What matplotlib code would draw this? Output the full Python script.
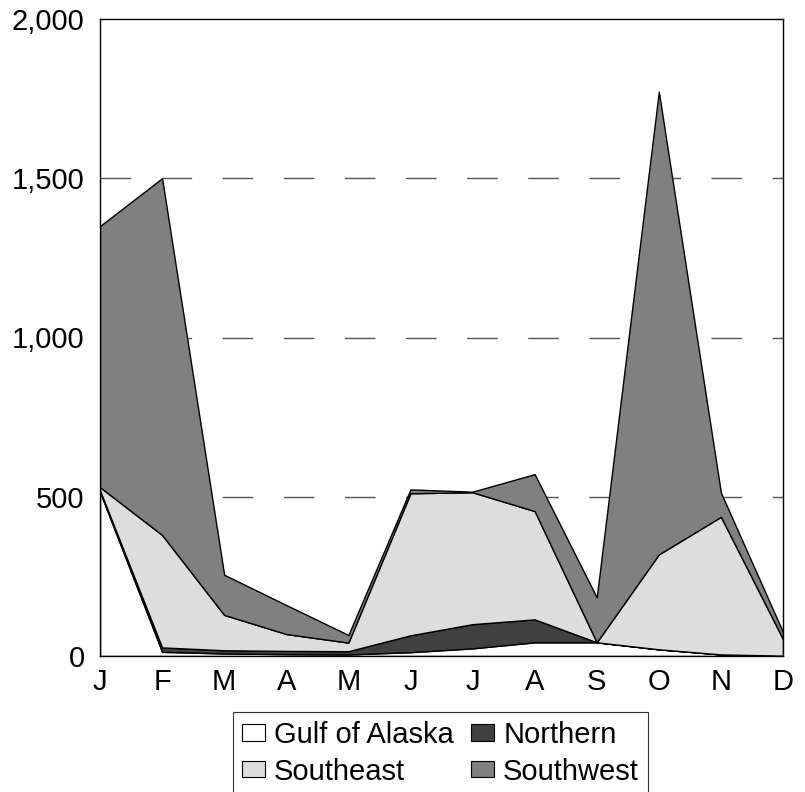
import numpy as np
import matplotlib.pyplot as plt
from matplotlib.patches import Patch

months = ["J", "F", "M", "A", "M", "J", "J", "A", "S", "O", "N", "D"]
gulf_of_alaska = [515, 13, 8, 6, 5, 12, 24, 43, 43, 21, 5, 1]
northern = [5, 14, 10, 10, 10, 53, 76, 72, 0, 0, 0, 0]
southeast = [10, 353, 111, 53, 27, 446, 414, 340, 0, 298, 432, 52]
southwest = [820, 1120, 126, 91, 24, 12, 2, 116, 141, 1453, 76, 22]

names = ["Gulf of Alaska", "Northern", "Southeast", "Southwest"]
colors = ["#ffffff", "#404040", "#dddddd", "#808080"]

plt.rcParams['font.family'] = ['Liberation Sans', 'DejaVu Sans']

fig = plt.figure(figsize=(8.05, 7.92), dpi=100)
ax = fig.add_axes([100 / 805, 136 / 792, 683 / 805, 637 / 792])

x = np.arange(len(months))
ax.stackplot(x, gulf_of_alaska, northern, southeast, southwest,
             colors=colors, edgecolor="black", linewidth=1, zorder=2)

ax.set_xlim(0, len(months) - 1)
ax.set_ylim(0, 2000)
ax.set_yticks([0, 500, 1000, 1500, 2000])
ax.set_yticklabels(["0", "500", "1,000", "1,500", "2,000"])
ax.set_xticks(x)
ax.set_xticklabels(months)
ax.tick_params(axis="both", length=0, labelsize=21)
ax.tick_params(axis="y", pad=11)
ax.tick_params(axis="x", pad=9)

for v in [500, 1000, 1500]:
    ax.axhline(v, color="#555555", linewidth=1, dashes=(22, 22), zorder=1)

for s in ax.spines.values():
    s.set_linewidth(1)
    s.set_color("black")
    s.set_zorder(3)

handles = [Patch(facecolor=colors[0], edgecolor="black", linewidth=0.8),
           Patch(facecolor=colors[2], edgecolor="black", linewidth=0.8),
           Patch(facecolor=colors[1], edgecolor="black", linewidth=0.8),
           Patch(facecolor=colors[3], edgecolor="black", linewidth=0.8)]
labels = [names[0], names[2], names[1], names[3]]
leg = fig.legend(handles, labels, ncol=2, loc="upper left",
                 bbox_to_anchor=(233 / 805, (792 - 712) / 792),
                 bbox_transform=fig.transFigure, borderaxespad=0,
                 fontsize=21, frameon=True, fancybox=False,
                 handlelength=0.8, handleheight=0.5, handletextpad=0.3,
                 columnspacing=0.6, labelspacing=0.3, borderpad=0.3)
leg.get_frame().set_edgecolor("black")
leg.get_frame().set_linewidth(0.8)

fig.savefig("out.png", dpi=100)
